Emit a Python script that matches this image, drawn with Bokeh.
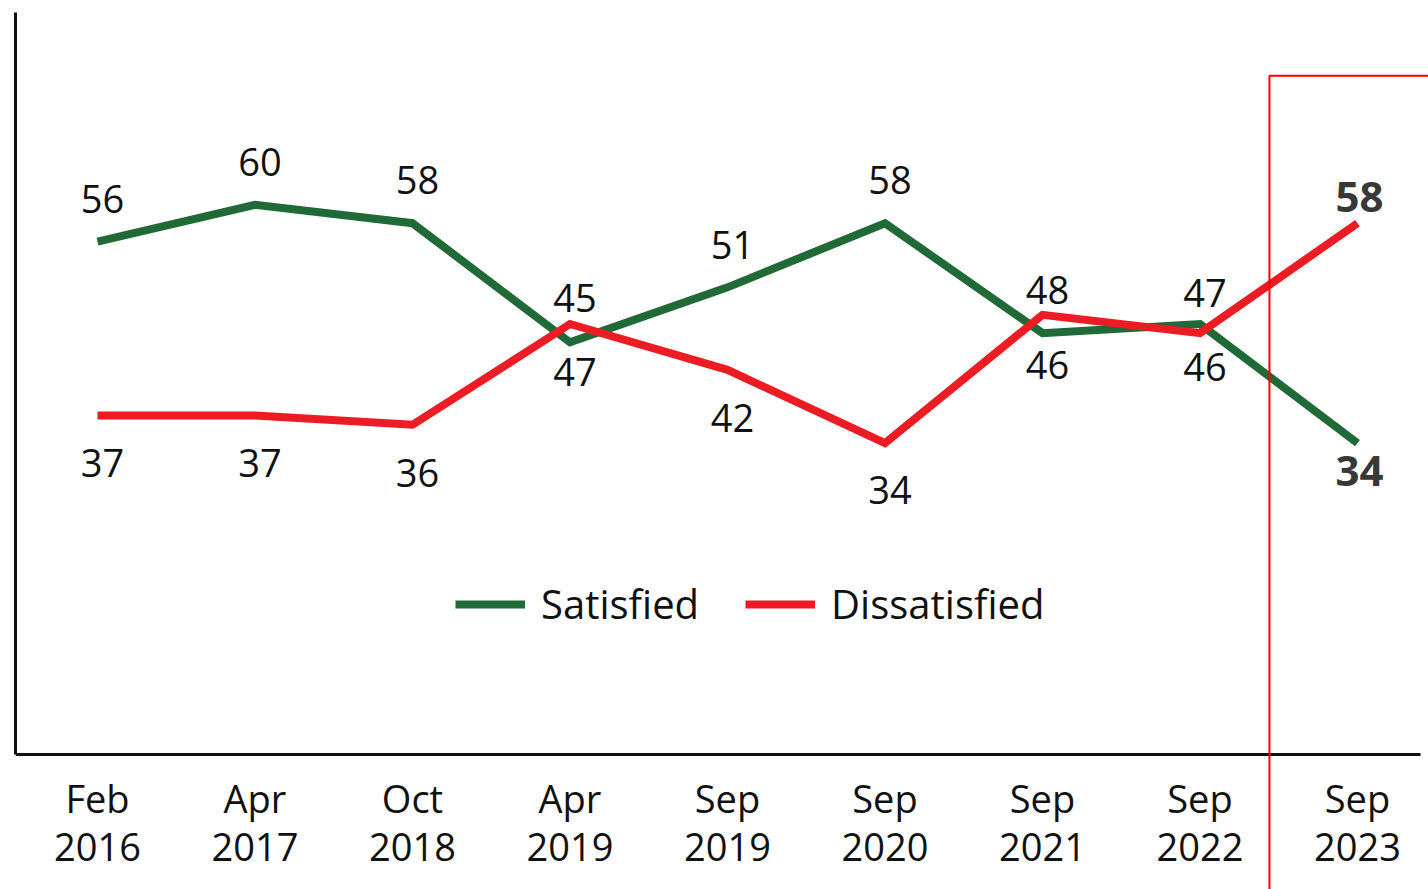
from bokeh.plotting import figure
from bokeh.models import ColumnDataSource, FixedTicker, BoxAnnotation, Legend, LegendItem
from bokeh.core.properties import value
from bokeh.embed import file_html
from bokeh.resources import INLINE

# ---- data ----
periods = ["Feb\n2016", "Apr\n2017", "Oct\n2018", "Apr\n2019", "Sep\n2019",
           "Sep\n2020", "Sep\n2021", "Sep\n2022", "Sep\n2023"]
satisfied = [56, 60, 58, 45, 51, 58, 46, 47, 34]
dissatisfied = [37, 37, 36, 47, 42, 34, 48, 46, 58]

# label placement (screen px, negative = above the point)
sat_off = [-43, -43, -43, -44, -42, -43, 32, -31, 28]
dis_off = [47, 47, 48, 48, 48, 47, -25, 34, -26]

GREEN = "#1f6a37"
RED = "#ec1c24"
FONT = "Open Sans"

xs = list(range(len(periods)))

X0, X1 = -0.5206, 8.4

# the frame runs to the bottom/right of the page so that the highlight box can cross the axis
p = figure(frame_width=1413, frame_height=877, output_backend="svg", toolbar_location=None,
           x_range=(X0, 8.4508), y_range=(-14.726, 81.0),
           min_border_left=15, min_border_top=12, min_border_right=0, min_border_bottom=0)
p.outline_line_color = None
p.xgrid.visible = False
p.ygrid.visible = False
p.background_fill_color = "white"

# axes
p.xaxis.fixed_location = 0
p.xaxis.bounds = (X0, X1)
p.xaxis.ticker = FixedTicker(ticks=xs)
p.xaxis.major_label_overrides = {i: lab for i, lab in enumerate(periods)}
p.xaxis.major_tick_line_color = None
p.xaxis.minor_tick_line_color = None
p.xaxis.axis_line_width = 3
p.xaxis.axis_line_color = "#111111"
p.xaxis.major_label_text_font = FONT
p.xaxis.major_label_text_font_size = "38px"
p.xaxis.major_label_text_line_height = 0.93
p.xaxis.major_label_text_color = "#111111"
p.xaxis.major_label_standoff = 11

p.yaxis.ticker = FixedTicker(ticks=[])
p.yaxis.bounds = (0, 81.0)
p.yaxis.major_tick_line_color = None
p.yaxis.minor_tick_line_color = None
p.yaxis.axis_line_width = 3
p.yaxis.axis_line_color = "#111111"

# highlight box around latest period (right and bottom edges fall outside the page)
box = BoxAnnotation(left=7.441, top=74.1, right=9.5, bottom=-20,
                    fill_alpha=0, line_color="#ff0000", line_alpha=1, line_width=2)
p.add_layout(box)

g = p.line(xs, satisfied, line_color=GREEN, line_width=8, line_join="miter")
r = p.line(xs, dissatisfied, line_color=RED, line_width=8, line_join="miter")

# regular labels (all but last)
reg = ColumnDataSource(dict(x=xs[:-1], sat=satisfied[:-1], dis=dissatisfied[:-1],
                            sat_lab=[str(v) for v in satisfied[:-1]],
                            dis_lab=[str(v) for v in dissatisfied[:-1]],
                            sat_off=sat_off[:-1], dis_off=dis_off[:-1]))
p.text("x", "sat", text="sat_lab", source=reg, y_offset="sat_off", x_offset=5,
       text_font=value(FONT), text_font_size="38px", text_color="#111111",
       text_align="center", text_baseline="middle")
p.text("x", "dis", text="dis_lab", source=reg, y_offset="dis_off", x_offset=5,
       text_font=value(FONT), text_font_size="38px", text_color="#111111",
       text_align="center", text_baseline="middle")

# latest values in bold
last = ColumnDataSource(dict(x=[xs[-1], xs[-1]], y=[satisfied[-1], dissatisfied[-1]],
                             lab=[str(satisfied[-1]), str(dissatisfied[-1])],
                             off=[sat_off[-1], dis_off[-1]]))
p.text("x", "y", text="lab", source=last, y_offset="off", x_offset=2,
       text_font=value(FONT), text_font_style="bold", text_font_size="42px",
       text_color="#383838", text_align="center", text_baseline="middle")

legend = Legend(items=[LegendItem(label="Satisfied", renderers=[g]),
                       LegendItem(label="Dissatisfied", renderers=[r])],
                orientation="horizontal", location=(440, 258),
                glyph_width=70, glyph_height=52, label_standoff=16, spacing=46,
                padding=0, margin=0, border_line_color=None, background_fill_alpha=0,
                label_text_font=FONT, label_text_font_size="40px",
                label_text_color="#111111")
p.add_layout(legend)

open("out.html", "w").write(file_html(p, INLINE))
